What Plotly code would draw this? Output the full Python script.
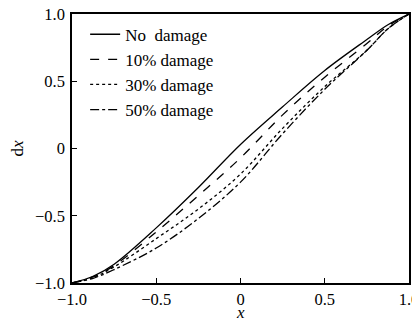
import plotly.graph_objects as go

x_vals = [-1.0, -0.875, -0.75, -0.5, -0.25, 0.0, 0.25, 0.5, 0.75, 0.875, 1.0]
no_damage = [-1.0, -0.95, -0.86, -0.59, -0.29, 0.03, 0.31, 0.58, 0.81, 0.92, 1.0]
damage_10 = [-1.0, -0.955, -0.87, -0.62, -0.35, -0.07, 0.25, 0.53, 0.78, 0.91, 1.0]
damage_30 = [-1.0, -0.96, -0.88, -0.67, -0.45, -0.19, 0.15, 0.46, 0.73, 0.89, 1.0]
damage_50 = [-1.0, -0.965, -0.90, -0.74, -0.52, -0.25, 0.11, 0.44, 0.73, 0.89, 1.0]

series_names = ["No  damage", "10% damage", "30% damage", "50% damage"]
series_vals = [no_damage, damage_10, damage_30, damage_50]
dashes = ["solid", "dash", "dot", "dashdot"]

tick_vals = [-1.0, -0.5, 0.0, 0.5, 1.0]
tick_text = ["\u22121.0", "\u22120.5", "0", "0.5", "1.0"]

fig = go.Figure()
for name, vals, d in zip(series_names, series_vals, dashes):
    fig.add_trace(go.Scatter(
        x=x_vals, y=vals, mode="lines", name=name,
        line=dict(color="black", width=1.3, dash=d, shape="spline", smoothing=1.0),
    ))

family = "Liberation Serif, Times New Roman, serif"
tick_font = dict(family=family, size=16.5, color="black")
title_font = dict(family=family, size=17, color="black")
legend_font = dict(family=family, size=17, color="black")

axis_common = dict(
    range=[-1, 1], tickvals=tick_vals, ticktext=tick_text,
    showline=True, linecolor="black", linewidth=1.5, mirror=True,
    ticks="inside", ticklen=5, tickwidth=1, tickcolor="black",
    showgrid=False, zeroline=False, tickfont=tick_font, automargin=False,
    ticklabeloverflow="allow",
)
fig.update_xaxes(**axis_common, ticklabelstandoff=0)
fig.update_yaxes(**axis_common, ticklabelstandoff=2,
                 title=dict(text="d<i>x</i>", font=title_font, standoff=10))

# x-axis title placed just below the tick labels
fig.add_annotation(text="<i>x</i>", xref="paper", yref="paper",
                   x=0.5, y=-0.108, xanchor="center", yanchor="middle",
                   showarrow=False, font=title_font)

fig.update_layout(
    width=412, height=312,
    margin=dict(l=64, r=11, t=6, b=37),
    plot_bgcolor="white", paper_bgcolor="white",
    font=tick_font,
    showlegend=True,
    legend=dict(x=0.039, y=0.99, xanchor="left", yanchor="top",
                bgcolor="rgba(0,0,0,0)", font=legend_font, tracegroupgap=0,
                itemwidth=30),
)

fig.write_html("out.html")
